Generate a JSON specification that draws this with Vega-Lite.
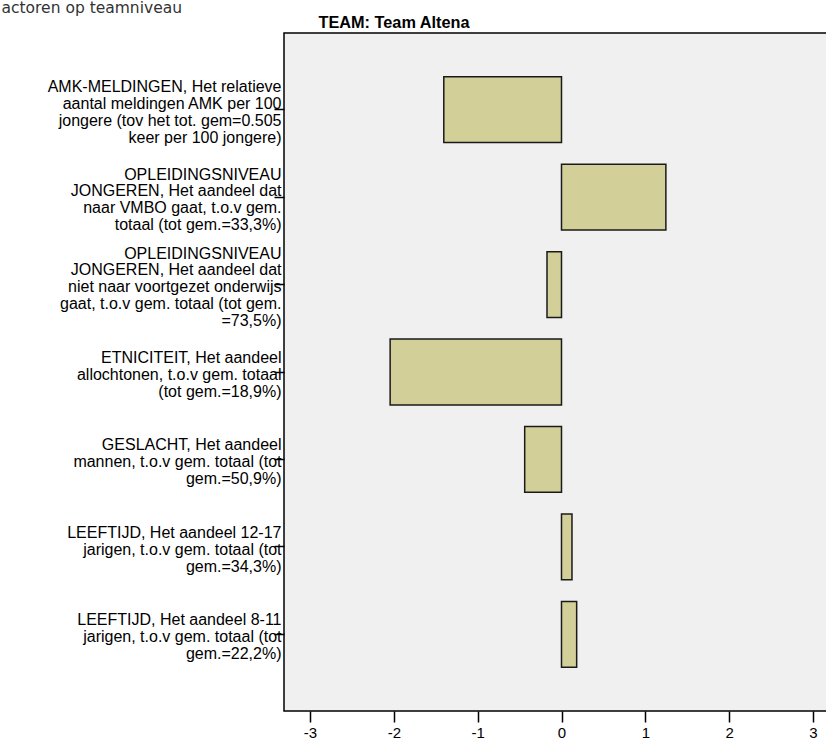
{
  "$schema": "https://vega.github.io/schema/vega-lite/v6.json",
  "autosize": {"type": "none"},
  "padding": {"left": 284, "top": 33, "right": 0, "bottom": 30},
  "width": 555,
  "height": 678,
  "background": "white",
  "data": {
    "values": [
      {"label": "AMK-MELDINGEN, Het relatieve|aantal meldingen AMK per 100|jongere (tov het tot. gem=0.505|keer per 100 jongere)", "value": -1.404},
      {"label": "OPLEIDINGSNIVEAU|JONGEREN, Het aandeel dat|naar VMBO gaat, t.o.v gem.|totaal (tot gem.=33,3%)", "value": 1.245},
      {"label": "OPLEIDINGSNIVEAU|JONGEREN, Het aandeel dat|niet naar voortgezet onderwijs|gaat, t.o.v gem. totaal (tot gem.|=73,5%)", "value": -0.173},
      {"label": "ETNICITEIT, Het aandeel|allochtonen, t.o.v gem. totaal|(tot gem.=18,9%)", "value": -2.044},
      {"label": "GESLACHT, Het aandeel|mannen, t.o.v gem. totaal (tot|gem.=50,9%)", "value": -0.439},
      {"label": "LEEFTIJD, Het aandeel 12-17|jarigen, t.o.v gem. totaal (tot|gem.=34,3%)", "value": 0.125},
      {"label": "LEEFTIJD, Het aandeel 8-11|jarigen, t.o.v gem. totaal (tot|gem.=22,2%)", "value": 0.181}
    ]
  },
  "mark": {"type": "bar", "fill": "#d3cf98", "stroke": "#1a1a1a", "strokeWidth": 1.5},
  "encoding": {
    "y": {
      "field": "label",
      "type": "nominal",
      "sort": null,
      "scale": {"paddingInner": 0.248, "paddingOuter": 0.5},
      "axis": {
        "title": "actoren op teamniveau",
        "titleAngle": 0,
        "titleAlign": "left",
        "titleBaseline": "alphabetic",
        "titleX": -283,
        "titleY": -21,
        "titleFont": "DejaVu Sans",
        "titleFontSize": 15.5,
        "titleFontWeight": "normal",
        "titleColor": "#333333",
        "labelExpr": "split(datum.label, '|')",
        "labelFont": "Liberation Sans",
        "labelFontSize": 16,
        "labelLineHeight": 16.8,
        "labelColor": "black",
        "labelAlign": "right",
        "labelBaseline": "middle",
        "labelLimit": 400,
        "labelPadding": -7,
        "labelOffset": {
          "condition": [
            {"test": "length(split(datum.value, '|')) == 5", "value": -31},
            {"test": "length(split(datum.value, '|')) == 4", "value": -22.4}
          ],
          "value": -14
        },
        "tickSize": 10,
        "tickColor": "black",
        "tickWidth": 1.5,
        "domain": false,
        "grid": false
      }
    },
    "x": {
      "field": "value",
      "type": "quantitative",
      "scale": {"domain": [-3.31, 3.31], "nice": false, "zero": false},
      "axis": {
        "title": "TEAM: Team Altena",
        "titleAngle": 0,
        "titleAlign": "left",
        "titleBaseline": "alphabetic",
        "titleX": 34,
        "titleY": -684,
        "titleFont": "Liberation Sans",
        "titleFontSize": 16.3,
        "titleFontWeight": "bold",
        "titleColor": "black",
        "values": [-3, -2, -1, 0, 1, 2, 3],
        "labelExpr": "'' + datum.value",
        "labelFont": "Liberation Sans",
        "labelFontSize": 15,
        "labelColor": "black",
        "labelPadding": 3,
        "tickSize": 11,
        "tickColor": "black",
        "tickWidth": 1.5,
        "domain": false,
        "grid": false
      }
    },
    "x2": {"datum": 0}
  },
  "config": {
    "view": {"fill": "#f0f0f0", "stroke": "black", "strokeWidth": 1.5}
  }
}
